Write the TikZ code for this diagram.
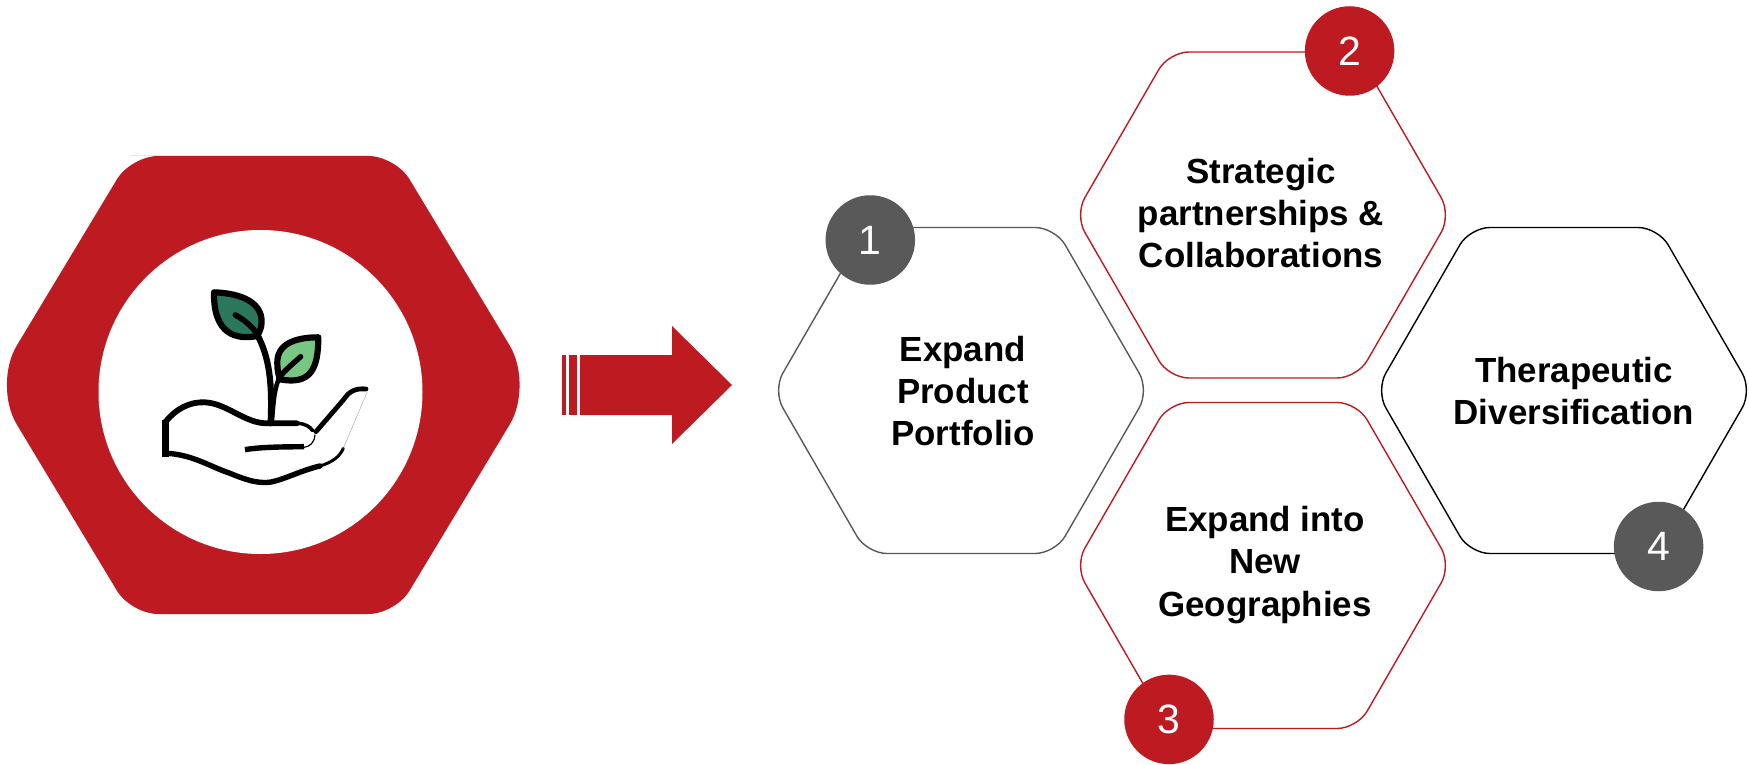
\documentclass[tikz,border=0pt]{standalone}
\usepackage{fontspec}
\setmainfont{Liberation Sans}
\definecolor{brand}{HTML}{BD1A21}
\definecolor{slate}{HTML}{595959}
\definecolor{leafdark}{HTML}{2B775C}
\definecolor{leaflight}{HTML}{78C683}
\newcommand{\hexa}[5][]{% options, cx, cy, half width, half height
  \pgfmathsetmacro{\hexW}{#4}\pgfmathsetmacro{\hexH}{#5}\pgfmathsetmacro{\hexT}{#5/1.732}
  \draw[#1] (#2-\hexW,#3) -- (#2-\hexT,#3-\hexH) -- (#2+\hexT,#3-\hexH) -- (#2+\hexW,#3) -- (#2+\hexT,#3+\hexH) -- (#2-\hexT,#3+\hexH) -- cycle;}
\tikzset{
  cell/.style={line width=1.4pt,rounded corners=20pt,fill=white},
  badge/.style={circle,minimum size=89.5pt,inner sep=0pt,text=white,font=\fontsize{41}{41}\selectfont},
  celltext/.style={align=center,font=\fontsize{34.9}{42.3}\selectfont\bfseries,text=black},
  ink/.style={draw=black,line cap=round,line join=round},
}
\begin{document}
\begin{tikzpicture}[x=1pt,y=-1pt]
\useasboundingbox (0,0) rectangle (1749,765);
\fill[white] (0,0) rectangle (1749,765);
% big hexagon
\fill[brand] (131,156) [rounded corners=27pt] -- (395.5,156) [rounded corners=46pt] -- (533.5,385) [rounded corners=27pt] -- (395.5,614) -- (131,614) [rounded corners=46pt] -- (-7,385) [rounded corners=27pt] -- (131,156) -- (200,156);
\fill[white] (260.5,392) circle[radius=162];
% plant icon
\begin{scope}[shift={(130,260)},x=0.3333pt,y=-0.3333pt]
\draw[ink,line width=6.2pt] (385,230) .. controls (415,290) and (428,360) .. (422,490);
\draw[ink,line width=4.6pt] (445,360) .. controls (430,400) and (430,440) .. (425,490);
\draw[ink,line width=6.2pt,fill=leafdark] (252,97) .. controls (340,100) and (395,130) .. (395,185) .. controls (395,205) and (388,215) .. (382,228) .. controls (320,240) and (250,225) .. (252,97) -- cycle;
\draw[ink,line width=5.6pt] (316,165) .. controls (345,180) and (365,200) .. (382,222);
\draw[ink,line width=6.2pt,fill=leaflight] (565,232) .. controls (490,232) and (440,255) .. (442,310) .. controls (442,330) and (445,345) .. (450,358) .. controls (540,375) and (565,330) .. (565,232) -- cycle;
\draw[ink,line width=5.4pt] (512,290) .. controls (490,310) and (465,330) .. (446,355);
\draw[ink,line width=5.8pt] (107,485) .. controls (140,445) and (180,425) .. (225,427) .. controls (290,430) and (345,490) .. (410,490) -- (500,490);
\draw[ink,line width=3.5pt] (500,490) .. controls (525,490) and (540,500) .. (548,512);
\draw[ink,line width=6.8pt,line cap=butt] (107,480) -- (107,590);
\draw[ink,line width=4.8pt] (558,515) -- (640,420) .. controls (660,390) and (680,385) .. (708,387);
\draw[ink,line width=5.4pt] (112,580) .. controls (190,585) and (240,620) .. (300,640) .. controls (360,665) and (400,675) .. (440,662) .. controls (480,650) and (520,630) .. (570,618);
\draw[ink,line width=3pt] (570,618) .. controls (605,608) and (630,590) .. (640,565);
\draw[draw=black!45,line width=.3pt] (640,565) -- (712,395);
\draw[ink,line width=5.4pt,line cap=butt] (345,569) .. controls (400,560) and (470,561) .. (522,560);
\draw[ink,line width=1.2pt] (522,562) .. controls (540,560) and (553,548) .. (555,525);
\end{scope}
% arrow
\fill[brand] (562,355) rectangle (566,415);
\fill[brand] (569,355) rectangle (577,415);
\fill[brand] (580,355) -- (672,355) -- (672,326) -- (732,385) -- (672,444) -- (672,415) -- (580,415) -- cycle;
% cells
\hexa[cell,draw=slate]{961}{390.5}{188.2}{163}
\hexa[cell,draw=brand]{1263}{215}{188.2}{163}
\hexa[cell,draw=brand]{1263}{565.5}{188.2}{163}
\hexa[cell,draw=black]{1564}{390.5}{188.2}{163}
% labels
\node[celltext] (t1) at (963,391) {Expand\\Product\\Portfolio};
\node[celltext] (t2) at (1261,213) {Strategic\\partnerships \&\\Collaborations};
\node[celltext] (t3) at (1265,565) {Expand into\\New\\Geographies};
\node[celltext] (t4) at (1574,391) {Therapeutic\\Diversification};
% badges
\node[badge,fill=slate] (b1) at (870.3,240) {1};
\node[badge,fill=brand] (b2) at (1349.6,51) {2};
\node[badge,fill=brand] (b3) at (1169,719.4) {3};
\node[badge,fill=slate] (b4) at (1658.6,546.5) {4};
\end{tikzpicture}
\end{document}
